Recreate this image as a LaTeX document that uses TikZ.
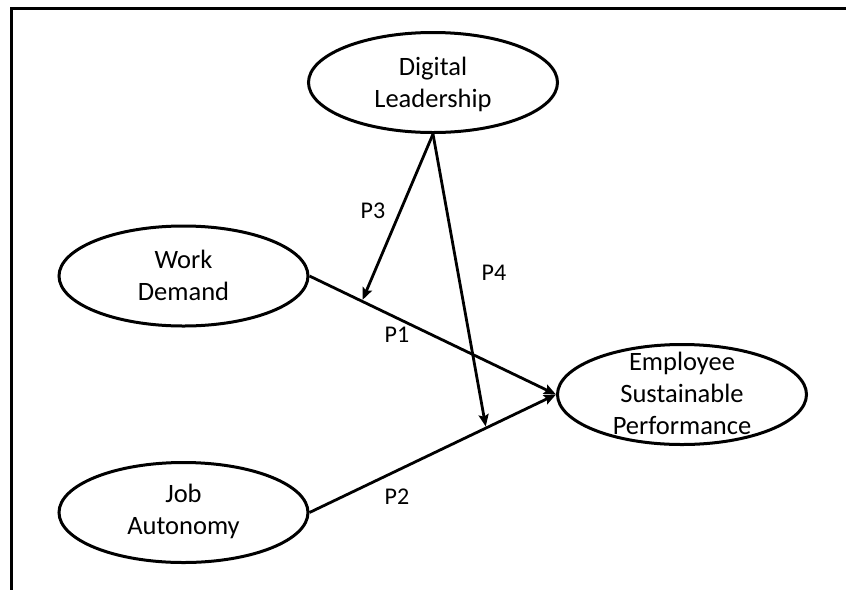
\documentclass[tikz,border=0pt]{standalone}
\usepackage{fontspec}
\setmainfont{Carlito}
\usetikzlibrary{arrows.meta,calc,shapes.geometric}

\tikzset{
  construct/.style={ellipse, draw, line width=3pt, minimum width=249pt,
    minimum height=100pt, inner sep=0pt},
  constructtext/.style={align=center, inner sep=0pt,
    font=\fontsize{26.5}{32}\selectfont},
  effect/.style={line width=2.8pt, -{Stealth[length=12pt,width=10pt,inset=2pt]}},
  plabel/.style={inner sep=0pt, font=\fontsize{24}{28}\selectfont},
  frameline/.style={line width=3.2pt}
}

\begin{document}
\begin{tikzpicture}[x=1pt,y=-1pt]
  \useasboundingbox (0,0) rectangle (846,590);

  % open frame along the top and left edges
  \coordinate (ftopright) at (846,8.5);
  \coordinate (fcorner) at (11.5,8.5);
  \coordinate (fbottomleft) at (11.5,590);
  \draw[frameline] (ftopright) -- (fcorner) -- (fbottomleft);

  % constructs
  \node[construct] (dl)  at (433,82.5) {};
  \node[construct] (wd)  at (183.5,276) {};
  \node[construct] (ja)  at (183.5,512.5) {};
  \node[construct] (esp) at (682,394.5) {};

  \node[constructtext] (dlt)  at (433,84) {Digital\\Leadership};
  \node[constructtext] (wdt)  at (183.5,275) {Work\\Demand};
  \node[constructtext] (jat)  at (183.5,511.5) {Job\\Autonomy};
  \node[constructtext] (espt) at (682,393.5) {Employee\\Sustainable\\Performance};

  % direct effects
  \draw[effect] (wd.east) -- (esp.west);
  \draw[effect] (ja.east) -- (esp.west);

  % moderating effects land on the direct paths
  \coordinate (m1) at ($(wd.east)!0.213!(esp.west)$);
  \coordinate (m2) at ($(ja.east)!0.716!(esp.west)$);
  \draw[effect, shorten >=1.5pt] (dl.south) -- (m1);
  \draw[effect, shorten >=1.5pt] (dl.south) -- (m2);

  % path labels
  \node[plabel] (p3) at (373,211) {P3};
  \node[plabel] (p4) at (494,273) {P4};
  \node[plabel] (p1) at (397,335) {P1};
  \node[plabel] (p2) at (397,497) {P2};
\end{tikzpicture}
\end{document}
